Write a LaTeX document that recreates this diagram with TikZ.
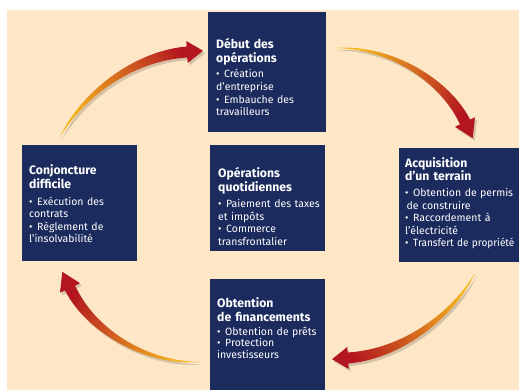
\documentclass[tikz,border=0pt]{standalone}
\usepackage{fontspec}
\setmainfont{Fira Sans}
\usetikzlibrary{calc}
\definecolor{bg}{HTML}{FDE7C7}
\definecolor{navy}{HTML}{1C2B5E}
\definecolor{arrY}{HTML}{F4B41E}
\definecolor{arrO}{HTML}{E07B22}
\definecolor{arrR}{HTML}{B3161F}
\newcommand\bul[1]{\hangindent=8pt\hangafter=1\noindent\makebox[8pt][l]{\textbullet}#1\par}
\begin{document}
\begin{tikzpicture}[x=1pt,y=-1pt,
  box/.style={fill=navy, draw=none, inner sep=0, outer sep=0, anchor=north west},
  ttl/.style={anchor=base west, inner sep=0, text=white, text width=125pt, font=\bfseries\fontsize{12.2}{13.2}\selectfont, align=left},
  lst/.style={anchor=base west, inner sep=0, text=white, text width=125pt, font=\fontsize{10.5}{12.6}\selectfont, align=left},
  arrowA/.style={insert path={(60,137) .. controls (77.8,96.85) and (129.7,51.5) .. (186.65,46.5) -- (186.3,41) -- (203,50.8) -- (187.7,63) -- (187.35,57.5) .. controls (130.3,61) and (82.4,99.4) .. (60,137) -- cycle}},
  arrowB/.style={insert path={(335,48) .. controls (389.9,43.5) and (449,78.1) .. (470,119.6) -- (475,117.3) -- (472.7,138.2) -- (455,126.8) -- (460,124.4) .. controls (440.6,82.1) and (390.1,48.7) .. (335,48) -- cycle}},
  arrshade/.style={top color=arrY, middle color=arrO, bottom color=arrR, shading angle=#1},
  arrshadow/.style={fill=black, opacity=0.16}
]
\useasboundingbox (0,0) rectangle (519,390);
\fill[bg] (7,10) rectangle (519,390);

% boxes
\node[box, minimum width=118pt, minimum height=120pt] (top) at (208,12) {};
\node[box, minimum width=115pt, minimum height=116pt] (left) at (22,145) {};
\node[box, minimum width=115pt, minimum height=106pt] (center) at (210,145) {};
\node[box, minimum width=120pt, minimum height=114pt] (right) at (399,148) {};
\node[box, minimum width=115pt, minimum height=111pt] (bottom) at (210,279) {};

% texts
\node[ttl] (topT) at (216,49) {Début des\\opérations};
\node[lst] (topL) at (216,78) {\bul{Création\\d’entreprise}\bul{Embauche des\\travailleurs}};

\node[ttl] (leftT) at (29,175) {Conjoncture\\difficile};
\node[lst] (leftL) at (29,205) {\bul{Exécution des\\contrats}\bul{Règlement de\\l’insolvabilité}};

\node[ttl] (centerT) at (218,178) {Opérations\\quotidiennes};
\node[lst] (centerL) at (218,207.5) {\bul{Paiement des taxes\\et impôts}\bul{Commerce\\transfrontalier}};

\node[ttl] (rightT) at (405,167.5) {Acquisition\\d’un terrain};
\node[lst] (rightL) at (405,196.5) {\bul{Obtention de permis\\\hspace*{1.5pt}de construire}\bul{Raccordement à\\l’électricité}\bul{\scalebox{0.955}[1]{Transfert de propriété}}};

\node[ttl] (bottomT) at (217,307.5) {Obtention\\[1pt]de financements};
\node[lst, font=\fontsize{10.5}{11.8}\selectfont] (bottomL) at (217,335) {\bul{Obtention de prêts}\bul{Protection\\investisseurs}};

% arrows: shadows
\begin{scope}[shift={(2,2.5)}]
  \fill[arrshadow, arrowA];
  \fill[arrshadow, arrowB];
  \begin{scope}[rotate around={180:(267.5,205)}]
    \fill[arrshadow, arrowA];
    \fill[arrshadow, arrowB];
  \end{scope}
\end{scope}
% arrows
\shade[arrshade=120.8, arrowA];
\shade[arrshade=57, arrowB];
\begin{scope}[rotate around={180:(267.5,205)}]
  \shade[arrshade=-59.2, arrowA];
  \shade[arrshade=-123, arrowB];
\end{scope}
\end{tikzpicture}
\end{document}
